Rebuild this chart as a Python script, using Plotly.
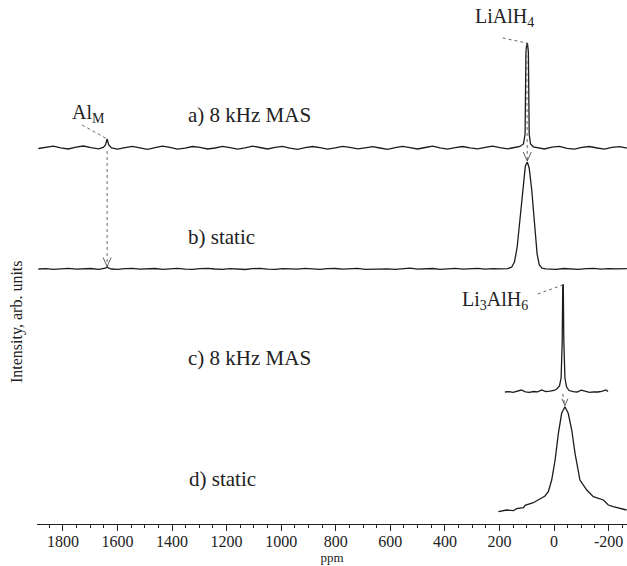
import plotly.graph_objects as go

# ---------------- data ----------------
# chemical shift axis, ppm
grid_ppm = [1890, 1862, 1835, 1808, 1780, 1752, 1725, 1697, 1670, 1652, 1644, 1638, 1632, 1622,
            1600, 1572, 1545, 1518, 1490, 1462, 1435, 1408, 1380, 1352, 1325, 1298, 1270, 1242,
            1215, 1188, 1160, 1132, 1105, 1078, 1050, 1022, 995, 968, 940, 912, 885, 858, 830,
            802, 775, 748, 720, 692, 665, 638, 610, 582, 555, 528, 500, 472, 445, 418, 390, 362,
            335, 308, 280, 252, 225, 198]

# a) 8 kHz MAS (LiAlH4)
a_ppm = grid_ppm + [170, 145, 125, 112, 106, 103, 100, 97, 94, 91, 86, 76, 60, 35, 8, -20, -48,
                    -75, -102, -130, -158, -185, -212, -240, -267]
a_int = [-0.5, 0.5, 1.8, 0.2, -1.0, 0.8, 2.0, 0.3, -0.8, 0.5, 3.0, 9.0, 3.0, 0.0,
         -1.2, 0.3, 1.6, 0.2, -1.3, 0.4, 1.9, 0.6, -1.1, -0.2, 1.5, 0.7, -1.0, 0.0,
         1.7, 0.4, -1.2, 0.2, 1.8, 0.5, -1.0, 0.6, 1.6, -0.2, -1.3, 0.3, 1.5, 0.4, -1.1,
         0.1, 1.7, 0.6, -0.9, 0.2, 1.4, 0.0, -1.4, 0.3, 1.6, 0.4, -1.0, 0.5, 1.8, 0.1, -1.2, 0.3,
         1.5, 0.2, -0.9, 0.6, 1.9, 0.3,
         -0.8, 0.5, 1.5, 4.0, 14.0, 95.0, 105.0, 104.0, 96.0, 14.0, 4.0, 1.2, 0.2, -1.0, 0.8, 1.6, -0.3,
         -1.2, 0.6, 1.5, 0.0, -1.1, 0.7, 1.4, -0.2]

# b) static (LiAlH4)
b_ppm = grid_ppm + [170, 155, 145, 135, 125, 115, 105, 98, 91, 82, 72, 62, 54, 44, 30, -8, -35,
                    -62, -90, -118, -145, -172, -200, -228, -267]
b_int = [0.0, 0.4, -0.3, 0.2, 0.6, -0.2, 0.1, 0.5, -0.3, 0.2, 0.8, 2.0, 0.8, 0.0,
         -0.4, 0.3, 0.6, -0.2, 0.1, 0.5, -0.3, 0.2, 0.7, -0.1, -0.4, 0.3, 0.6, 0.0,
         -0.3, 0.4, 0.2, -0.5, 0.3, 0.7, -0.1, -0.3, 0.4, 0.1, -0.2, 0.6, 0.2, -0.4, 0.3,
         0.5, -0.2, 0.1, 0.6, -0.3, 0.0, 0.5, 0.2, -0.4, 0.3, 0.8, -0.2, 0.1, 0.5, -0.3, 0.2, 0.6,
         -0.1, 0.3, 0.7, -0.2, 0.4, 0.1,
         0.3, 2.0, 7.0, 22.0, 50.0, 82.0, 103.0, 107.0, 101.0, 80.0, 45.0, 15.0, 4.0, 0.8, 0.2, -0.3, 0.5,
         0.2, -0.4, 0.3, 0.6, -0.2, 0.4, 0.1, 0.3]

# c) 8 kHz MAS (Li3AlH6)
c_ppm = [180, 165, 150, 135, 120, 105, 90, 75, 60, 45, 30, 15, 0, -10, -20, -26, -30, -32, -34,
         -36, -40, -46, -55, -70, -85, -100, -115, -130, -145, -160, -175, -190, -198]
c_int = [0.0, 0.3, -0.3, 0.5, 2.0, 0.2, -0.4, 0.5, 0.2, 2.0, 0.3, 0.8, 1.5, 3.0, 6.0, 14.0, 50.0,
         107.0, 107.0, 50.0, 14.0, 5.0, 1.5, 0.3, 0.0, 1.8, 0.4, -0.3, 0.2, 0.0, 0.6, 2.0, 0.4]

# d) static (Li3AlH6)
d_ppm = [204, 173, 149, 137, 112, 106, 76, 51, 33, 21, 8.5, -4, -16, -28, -40, -52, -65, -77,
         -95, -120, -144, -181, -199, -217, -242, -266]
d_int = [0.3, 2.0, 1.3, 3.3, 4.3, 6.7, 9.3, 13.0, 16.0, 20.3, 32.0, 52.0, 78.7, 98.7, 105.3, 98.7,
         82.0, 58.7, 32.0, 22.0, 15.3, 12.0, 7.0, 5.3, 3.7, 2.0]

tick_vals = [1800, 1600, 1400, 1200, 1000, 800, 600, 400, 200, 0, -200]
tick_text = ["1800", "1600", "1400", "1200", "1000", "800", "600", "400", "200", "0", "-200"]

spectrum_labels = ["a) 8 kHz MAS", "b) static", "c) 8 kHz MAS", "d) static"]
peak_labels = ["Al<sub>M</sub>", "LiAlH<sub>4</sub>", "Li<sub>3</sub>AlH<sub>6</sub>"]

# ---------------- layout constants ----------------
W, H = 627, 566
ML, MB = 37, 42
PLOT_H = H - MB          # 524 px; y units == pixels from the bottom of the plot area
X_LEFT, X_RIGHT = 1895, -267.5
PPM_PER_PX = (X_LEFT - X_RIGHT) / (W - ML)
OFFSETS = [376, 255, 132, 12]
FONT = "Liberation Serif"
LINE = "#1c1c1c"
DOT = "#6a6a6a"

def px2ppm(px):
    return X_LEFT - (px - ML) * PPM_PER_PX

def py2v(py):
    return PLOT_H - py

fig = go.Figure()
series = [(a_ppm, a_int), (b_ppm, b_int), (c_ppm, c_int), (d_ppm, d_int)]
for (xs, ys), off in zip(series, OFFSETS):
    fig.add_trace(go.Scatter(x=xs, y=[off + v for v in ys], mode="lines",
                             line=dict(color=LINE, width=1.3), hoverinfo="skip",
                             showlegend=False))

def peak(xs, ys, lo, hi):
    best = None
    for x, y in zip(xs, ys):
        if lo <= x <= hi and (best is None or y > best[1]):
            best = (x, y)
    return best

shapes = []
def dline(x0, y0, x1, y1, dash="dot", color=DOT, width=1):
    shapes.append(dict(type="line", xref="x", yref="y", x0=x0, y0=y0, x1=x1, y1=y1,
                       line=dict(color=color, width=width, dash=dash)))

def vhead(x, ytip, w_px=4, h_px=9):
    dx = w_px * PPM_PER_PX
    dline(x - dx, ytip + h_px, x, ytip, dash="solid", color="#333", width=0.8)
    dline(x + dx, ytip + h_px, x, ytip, dash="solid", color="#333", width=0.8)

# Al_M
pm_x, pm_y = peak(a_ppm, a_int, 1600, 1700)
top = OFFSETS[0] + pm_y
dline(pm_x + 25 * PPM_PER_PX, top + 14, pm_x, top)
tip = OFFSETS[1] + peak(b_ppm, b_int, 1600, 1700)[1] + 0.5
dline(pm_x, OFFSETS[0] - 3, pm_x, tip)
vhead(pm_x, tip)

# LiAlH4
la_x, la_y = peak(a_ppm, a_int, 0, 200)
top = OFFSETS[0] + la_y
dline(la_x + 24 * PPM_PER_PX, top + 5, la_x, top)
lb_x, lb_y = peak(b_ppm, b_int, 0, 200)
tip = OFFSETS[1] + lb_y + 1
dline(la_x, top, lb_x, tip)
vhead(lb_x, tip)

# Li3AlH6
lc_x, lc_y = peak(c_ppm, c_int, -100, 50)
top = OFFSETS[2] + lc_y
dline(lc_x + 25 * PPM_PER_PX, top - 9, lc_x, top)
ld_x, ld_y = peak(d_ppm, d_int, -100, 50)
tip = OFFSETS[3] + ld_y + 1
dline(lc_x, OFFSETS[2] - 2, ld_x, tip)
vhead(ld_x, tip, w_px=3, h_px=7)

annotations = []
label_pos = [(186, 115), (186, 237), (186, 358), (187, 479)]
for txt, (px, py) in zip(spectrum_labels, label_pos):
    annotations.append(dict(x=px2ppm(px), y=py2v(py), xref="x", yref="y", text=txt,
                            showarrow=False, xanchor="left", yanchor="middle",
                            font=dict(family=FONT, size=21, color="#222")))
peak_label_pos = [(107, 113, "right"), (536, 17, "right"), (530, 300, "right")]
for txt, (px, py, anc) in zip(peak_labels, peak_label_pos):
    annotations.append(dict(x=px2ppm(px), y=py2v(py), xref="x", yref="y", text=txt,
                            showarrow=False, xanchor=anc, yanchor="middle",
                            font=dict(family=FONT, size=20, color="#222")))
annotations.append(dict(x=(17 - ML) / (W - ML), y=(PLOT_H - 322) / PLOT_H, xref="paper",
                        yref="paper", text="Intensity, arb. units", textangle=-90,
                        showarrow=False, xanchor="center", yanchor="middle",
                        font=dict(family=FONT, size=16, color="#222")))

fig.update_layout(
    width=W, height=H,
    margin=dict(l=ML, r=0, t=0, b=MB),
    paper_bgcolor="white", plot_bgcolor="white",
    shapes=shapes, annotations=annotations,
    xaxis=dict(range=[X_LEFT, X_RIGHT], tickvals=tick_vals, ticktext=tick_text,
               showline=True, linecolor="#222", linewidth=1.2, mirror=False,
               ticks="outside", ticklen=6, tickwidth=1.2, tickcolor="#222",
               minor=dict(dtick=50, ticks="outside", ticklen=3, tickwidth=1, tickcolor="#222"),
               showgrid=False, zeroline=False, ticklabelstandoff=-3,
               tickfont=dict(family=FONT, size=16, color="#222"),
               title=dict(text="ppm", font=dict(family=FONT, size=13, color="#222"), standoff=2)),
    yaxis=dict(range=[0, PLOT_H], visible=False, showgrid=False, zeroline=False),
)

fig.write_html("out.html", config={"displayModeBar": False},
               post_script="document.body.style.margin='0';document.body.style.overflow='hidden';")
